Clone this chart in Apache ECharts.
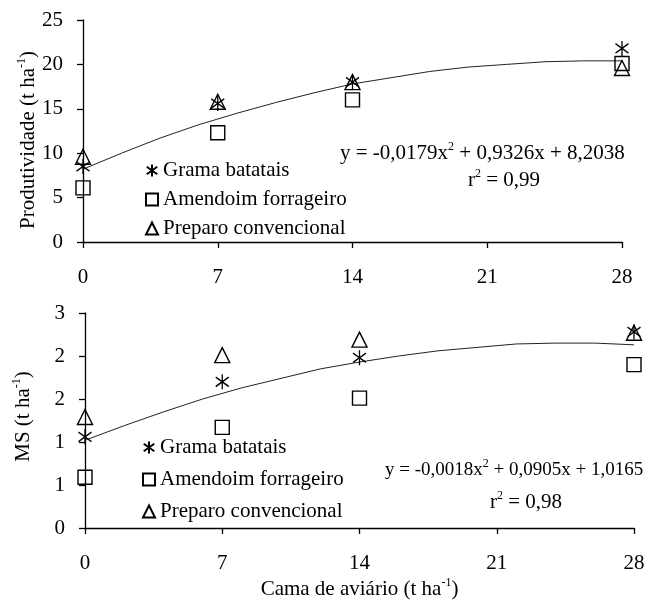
<!DOCTYPE html>
<html><head><meta charset="utf-8">
<script src="https://cdn.jsdelivr.net/npm/echarts@6/dist/echarts.min.js"></script>
<style>html,body{margin:0;padding:0;background:#fff}#c{width:655px;height:602px}</style>
</head><body><div id="c"></div>
<script>
// ---- data ----
const xDoses = [0, 7, 14, 28];
const xTicks = [0, 7, 14, 21, 28];
const seriesNames = ['Grama batatais', 'Amendoim forrageiro', 'Preparo convencional'];
const prodGrama = [8.5, 15.6, 18.0, 21.8];
const prodAmendoim = [6.1, 12.3, 16.0, 20.1];
const prodPreparo = [9.6, 15.8, 18.0, 19.6];
const msGrama = [1.06, 1.70, 1.98, 2.28];
const msAmendoim = [0.59, 1.17, 1.51, 1.90];
const msPreparo = [1.29, 2.01, 2.19, 2.27];
const curveX = [0, 2, 4, 6, 8, 10, 12, 14, 16, 18, 20, 22, 24, 26, 28];
const prodCurve = [8.2, 10.0, 11.7, 13.2, 14.5, 15.7, 16.8, 17.8, 18.5, 19.2, 19.7, 20.0, 20.3, 20.4, 20.4];
const msCurve = [1.02, 1.19, 1.35, 1.50, 1.63, 1.74, 1.85, 1.93, 2.00, 2.06, 2.10, 2.14, 2.15, 2.15, 2.13];
const prodYTicks = [0, 5, 10, 15, 20, 25];
const msYTicks = [0, 0.5, 1, 1.5, 2, 2.5];
const msYTickLabels = ['0', '1', '1', '2', '2', '3'];
const prodEq = ['y = -0,0179x', '2', ' + 0,9326x + 8,2038'];
const prodR2 = ['r', '2', ' = 0,99'];
const msEq = ['y = -0,0018x', '2', ' + 0,0905x + 1,0165'];
const msR2 = ['r', '2', ' = 0,98'];

// ---- style ----
const FF = '"Liberation Serif", "Times New Roman", serif';
const FS = 21;
const symAst = 'path://M7,0L7,16M0,3L14,13M0,13L14,3';
const symbols = [symAst, 'rect', 'triangle'];
const sizes = [[13, 15], 14, 15];

const chart = echarts.init(document.getElementById('c'));
const pair = (xs, ys) => xs.map((x, i) => [x, ys[i]]);
function mkRich(fs) {
  return {
    a: { fontFamily: FF, fontSize: fs, color: '#000', lineHeight: 24 },
    s: { fontFamily: FF, fontSize: 12, color: '#000', verticalAlign: 'top', lineHeight: 24 }
  };
}
const rich = mkRich(FS);
const axisLine = { show: true, lineStyle: { color: '#000', width: 1.3 } };
const axisTick = { show: true, length: 6, lineStyle: { color: '#000', width: 1.3 } };

function xAx(gi, name) {
  return {
    type: 'value', gridIndex: gi, min: xTicks[0], max: xTicks[xTicks.length - 1],
    interval: xTicks[1] - xTicks[0],
    axisLine, axisTick, splitLine: { show: false },
    axisLabel: { fontFamily: FF, fontSize: FS, color: '#000', margin: 25 },
    name: name || '', nameLocation: 'middle', nameGap: 49,
    nameTextStyle: { rich }
  };
}
function yAx(gi, ticks, labels, name, gap, pad) {
  return {
    type: 'value', gridIndex: gi, min: ticks[0], max: ticks[ticks.length - 1],
    interval: ticks[1] - ticks[0],
    axisLine, axisTick, splitLine: { show: false },
    axisLabel: {
      fontFamily: FF, fontSize: FS, color: '#000', margin: 20,
      formatter: (v) => { const i = ticks.findIndex(t => Math.abs(t - v) < 1e-9); return labels ? labels[i] : String(v); }
    },
    name, nameLocation: 'middle', nameGap: gap, nameMoveOverlap: false,
    nameTextStyle: { rich, padding: pad }
  };
}
function scatter(gi, k, ys) {
  return {
    type: 'scatter', name: seriesNames[k], xAxisIndex: gi, yAxisIndex: gi,
    data: pair(xDoses, ys), symbol: symbols[k], symbolSize: sizes[k],
    itemStyle: { color: 'rgba(0,0,0,0)', borderColor: '#000', borderWidth: 1.4, opacity: 1 },
    emphasis: { disabled: true }, z: 3
  };
}
function curve(gi, ys) {
  return {
    type: 'line', name: 'trend' + gi, xAxisIndex: gi, yAxisIndex: gi,
    data: pair(curveX, ys), showSymbol: false, symbol: 'none',
    lineStyle: { color: '#222', width: 1 }, z: 2, silent: true
  };
}
function eqText(parts, left, top, fs) {
  return {
    type: 'text', left, top,
    style: {
      text: '{a|' + parts[0] + '}{s|' + parts[1] + '}{a|' + parts[2] + '}',
      rich: mkRich(fs)
    }
  };
}
function legend(left, top, gap) {
  return {
    data: seriesNames, orient: 'vertical', left, top, itemGap: gap,
    itemWidth: 12, itemHeight: 12, selectedMode: false,
    textStyle: { fontFamily: FF, fontSize: FS, color: '#000' }
  };
}

chart.setOption({
  backgroundColor: '#fff',
  animation: false,
  grid: [
    { left: 83, right: 33, top: 20, bottom: 360 },
    { left: 85, right: 21, top: 313, bottom: 74 }
  ],
  xAxis: [xAx(0), xAx(1, '{a|Cama de aviário (t ha}{s|-1}{a|)}')],
  yAxis: [
    yAx(0, prodYTicks, null, '{a|Produtividade (t ha}{s|-1}{a|)}', 43, [0, 18, 0, 0]),
    yAx(1, msYTicks, msYTickLabels, '{a|MS (t ha}{s|-1}{a|)}', 50, [0, 0, 0, 8])
  ],
  legend: [legend(140, 155, 8), legend(137, 432, 11)],
  series: [
    curve(0, prodCurve),
    scatter(0, 0, prodGrama), scatter(0, 1, prodAmendoim), scatter(0, 2, prodPreparo),
    curve(1, msCurve),
    scatter(1, 0, msGrama), scatter(1, 1, msAmendoim), scatter(1, 2, msPreparo)
  ],
  graphic: [
    eqText(prodEq, 340, 141, FS),
    eqText(prodR2, 468, 168, FS),
    eqText(msEq, 385, 458, 19),
    eqText(msR2, 490, 490, FS)
  ]
});
</script></body></html>
